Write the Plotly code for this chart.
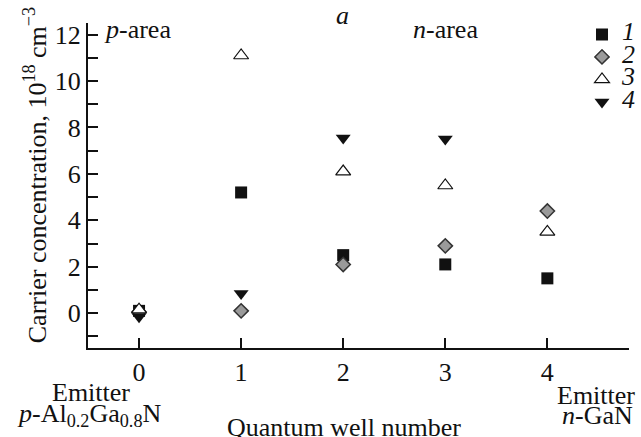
import plotly.graph_objects as go

wells = [0, 1, 2, 3, 4]
s1 = [0.1, 5.2, 2.5, 2.1, 1.5]
s2 = [0.05, 0.1, 2.1, 2.9, 4.4]
s3 = [0.15, 11.1, 6.1, 5.5, 3.5]
s4_x = [0, 1, 2, 3]
s4 = [-0.15, 0.85, 7.55, 7.5]
names = ["1", "2", "3", "4"]

FONT = "Liberation Serif"
FS = 26

def lname(t):
    return f'<span style="font-size:26px"><i>{t}</i></span>'

fig = go.Figure()
fig.add_trace(go.Scatter(x=wells, y=s1, mode="markers", name=lname(names[0]),
                         marker=dict(symbol="square", size=12, color="#111")))
fig.add_trace(go.Scatter(x=wells, y=s2, mode="markers", name=lname(names[1]),
                         marker=dict(symbol="diamond", size=11, color="#9a9a9a",
                                     line=dict(color="#333", width=1.5))))
fig.add_trace(go.Scatter(x=wells, y=s3, mode="markers", name=lname(names[2]),
                         marker=dict(symbol="triangle-up", size=13, color="white",
                                     line=dict(color="#111", width=1.2))))
fig.add_trace(go.Scatter(x=s4_x, y=s4, mode="markers", name=lname(names[3]),
                         marker=dict(symbol="triangle-down", size=13, color="#111")))

fig.update_layout(
    width=641, height=437,
    margin=dict(l=88, r=0, t=23, b=89),
    paper_bgcolor="white", plot_bgcolor="white",
    font=dict(family=FONT, size=FS, color="#111"),
    showlegend=True,
    legend=dict(x=0.895, y=1.015, xanchor="left", yanchor="top",
                font=dict(family=FONT, size=15, color="#111"),
                bgcolor="rgba(0,0,0,0)", tracegroupgap=0, itemwidth=30),
    xaxis=dict(domain=[0, 542 / 553], range=[-0.5, 4.8], tickmode="array",
               tickvals=wells, ticktext=[str(w) for w in wells],
               showline=True, linecolor="#111", linewidth=2,
               ticks="inside", ticklen=10, tickwidth=1.5, tickcolor="#111",
               showgrid=False, zeroline=False, ticklabelstandoff=0,
               tickfont=dict(family=FONT, size=FS, color="#111")),
    yaxis=dict(range=[-1.5, 12.5], tick0=0, dtick=2,
               showline=True, linecolor="#111", linewidth=2,
               ticks="inside", ticklen=10, tickwidth=1.5, tickcolor="#111",
               minor=dict(dtick=1, tick0=1, ticks="inside", ticklen=10,
                          tickwidth=1.5, tickcolor="#111", showgrid=False),
               showgrid=False, zeroline=False, ticklabelstandoff=0,
               tickfont=dict(family=FONT, size=FS, color="#111")),
)

ann = [
    dict(text="<i>a</i>", x=0.4611, y=1.0246, xanchor="center", yanchor="middle"),
    dict(text="<i>p</i>-area", x=0.0253, y=0.9815, xanchor="left", yanchor="middle"),
    dict(text="<i>n</i>-area", x=0.5859, y=0.9815, xanchor="left", yanchor="middle"),
    dict(text="Emitter", x=0.0054, y=-0.138, xanchor="center", yanchor="middle"),
    dict(text="<i>p</i>-Al<sub>0.2</sub>Ga<sub>0.8</sub>N", x=0.0018, y=-0.205,
         xanchor="center", yanchor="middle"),
    dict(text="Emitter", x=0.9204, y=-0.145, xanchor="center", yanchor="middle"),
    dict(text="<i>n</i>-GaN", x=0.9222, y=-0.207, xanchor="center", yanchor="middle"),
    dict(text="Quantum well number", x=0.4629, y=-0.246, xanchor="center", yanchor="middle"),
    dict(text="Carrier concentration, 10<sup>18</sup> cm<sup>\u22123</sup>",
         x=-0.0958, y=0.532, xanchor="center", yanchor="middle", textangle=-90),
]
for a in ann:
    fig.add_annotation(xref="paper", yref="paper", showarrow=False,
                       font=dict(family=FONT, size=FS, color="#111"), **a)

fig.write_html("out.html")
